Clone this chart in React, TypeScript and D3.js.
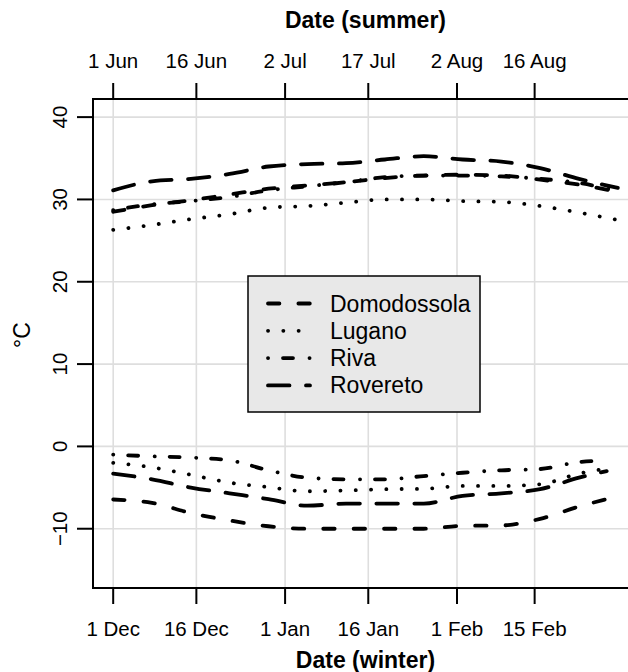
import React from "react";
import * as d3 from "d3";

const stations = ["Domodossola", "Lugano", "Riva", "Rovereto"];
const tickDays = [0, 15, 31, 46, 62, 76];
const summerTickLabels = ["1 Jun", "16 Jun", "2 Jul", "17 Jul", "2 Aug", "16 Aug"];
const winterTickLabels = ["1 Dec", "16 Dec", "1 Jan", "16 Jan", "1 Feb", "15 Feb"];
const yTicks = [-10, 0, 10, 20, 30, 40];

const summerDays = [0, 7, 14, 21, 28, 35, 42, 49, 56, 63, 70, 77, 84, 91];
const summerDomodossola = [28.5, 29.3, 29.9, 30.6, 31.3, 31.7, 32.1, 32.6, 32.9, 33.0, 32.9, 32.4, 31.8, 30.9];
const summerLugano = [26.3, 26.9, 27.6, 28.2, 29.0, 29.2, 29.6, 30.0, 30.0, 29.8, 29.7, 29.2, 28.4, 27.5];
const summerRiva = [28.7, 29.4, 29.8, 30.3, 31.1, 31.6, 32.1, 32.7, 32.9, 32.9, 32.8, 32.5, 32.0, 31.0];
const summerRovereto = [31.1, 32.2, 32.5, 33.1, 34.0, 34.3, 34.4, 34.85, 35.25, 34.85, 34.6, 33.8, 32.5, 31.4];

const winterDays = [0, 7, 14, 21, 28, 35, 42, 49, 56, 63, 70, 77, 84, 89];
const winterDomodossola = [-6.45, -6.85, -8.1, -9.0, -9.7, -10.0, -10.0, -10.0, -10.0, -9.65, -9.6, -8.8, -7.3, -6.4];
const winterLugano = [-2.0, -2.55, -3.45, -4.4, -4.95, -5.45, -5.35, -5.2, -5.15, -4.8, -4.8, -4.6, -3.3, -2.7];
const winterRiva = [-1.0, -1.2, -1.35, -1.7, -2.9, -3.8, -4.0, -4.0, -3.6, -3.2, -2.9, -2.75, -1.9, -1.7];
const winterRovereto = [-3.3, -4.0, -5.0, -5.7, -6.4, -7.2, -6.95, -6.95, -6.95, -6.0, -5.7, -5.2, -3.8, -3.0];

const dashes: Record<string, string> = {
  Domodossola: "11.4,19",
  Lugano: "0.1,15.2",
  Riva: "0.1,14.9,10,16.5",
  Rovereto: "21.5,16.5",
};

const FONT = "'Liberation Sans', Arial, Helvetica, sans-serif";

export default function App() {
  const W = 628, H = 672;
  const left = 93, right = 638, top = 99, bottom = 588;
  const x = d3.scaleLinear().domain([-3.64, 94.64]).range([left, right]);
  const y = d3.scaleLinear().domain([-17.2, 42.2]).range([bottom, top]);
  const line = d3
    .line<[number, number]>()
    .x((d) => x(d[0]))
    .y((d) => y(d[1]))
    .curve(d3.curveMonotoneX);

  const series = [
    { name: "Domodossola", days: summerDays, vals: summerDomodossola },
    { name: "Lugano", days: summerDays, vals: summerLugano },
    { name: "Riva", days: summerDays, vals: summerRiva },
    { name: "Rovereto", days: summerDays, vals: summerRovereto },
    { name: "Domodossola", days: winterDays, vals: winterDomodossola },
    { name: "Lugano", days: winterDays, vals: winterLugano },
    { name: "Riva", days: winterDays, vals: winterRiva },
    { name: "Rovereto", days: winterDays, vals: winterRovereto },
  ];

  const grid = "#dedede";
  const lw = 3.8;
  const tl = 16;

  const lgX = 248, lgY = 276, lgW = 232, lgH = 136;

  return (
    <svg width={W} height={H} style={{ position: "absolute", left: 0, top: 0 }} fontFamily={FONT}>
      <defs>
        <clipPath id="plotclip">
          <rect x={left} y={top} width={right - left} height={bottom - top} />
        </clipPath>
      </defs>
      <rect x={0} y={0} width={W} height={H} fill="#fff" />
      {/* grid */}
      {tickDays.map((d, i) => (
        <line key={"gv" + i} x1={x(d)} x2={x(d)} y1={top} y2={bottom} stroke={grid} strokeWidth={1.6} />
      ))}
      {yTicks.map((v, i) => (
        <line key={"gh" + i} x1={left} x2={right} y1={y(v)} y2={y(v)} stroke={grid} strokeWidth={1.6} />
      ))}
      {/* lines */}
      <g clipPath="url(#plotclip)">
        {series.map((s, i) => (
          <path
            key={"s" + i}
            d={line(s.days.map((d, j) => [d, s.vals[j]] as [number, number])) || ""}
            fill="none"
            stroke="#000"
            strokeWidth={lw}
            strokeDasharray={dashes[s.name]}
            strokeLinecap="round"
            strokeLinejoin="round"
          />
        ))}
      </g>
      {/* legend */}
      <rect x={lgX} y={lgY} width={lgW} height={lgH} fill="#e8e8e8" stroke="#000" strokeWidth={1.5} />
      {stations.map((name, i) => {
        const cy = 303.5 + i * 27.3;
        return (
          <g key={"lg" + i}>
            <line
              x1={268}
              x2={310}
              y1={cy}
              y2={cy}
              stroke="#000"
              strokeWidth={lw}
              strokeDasharray={dashes[name]}
              strokeLinecap="round"
            />
            <text x={330} y={cy} dy="0.35em" fontSize={23} fill="#000">
              {name}
            </text>
          </g>
        );
      })}
      {/* box */}
      <rect x={left} y={top} width={right - left} height={bottom - top} fill="none" stroke="#000" strokeWidth={2} />
      {/* top axis */}
      {tickDays.map((d, i) => (
        <g key={"tt" + i}>
          <line x1={x(d)} x2={x(d)} y1={top} y2={top - tl} stroke="#000" strokeWidth={2} />
          <text x={x(d)} y={68} textAnchor="middle" fontSize={20.5}>
            {summerTickLabels[i]}
          </text>
        </g>
      ))}
      <text x={(left + right) / 2} y={28} textAnchor="middle" fontSize={23} fontWeight="bold">
        Date (summer)
      </text>
      {/* bottom axis */}
      {tickDays.map((d, i) => (
        <g key={"bt" + i}>
          <line x1={x(d)} x2={x(d)} y1={bottom} y2={bottom + tl} stroke="#000" strokeWidth={2} />
          <text x={x(d)} y={636} textAnchor="middle" fontSize={20.5}>
            {winterTickLabels[i]}
          </text>
        </g>
      ))}
      <text x={(left + right) / 2} y={668} textAnchor="middle" fontSize={23} fontWeight="bold">
        Date (winter)
      </text>
      {/* left axis */}
      {yTicks.map((v, i) => (
        <g key={"yt" + i}>
          <line x1={left} x2={left - tl} y1={y(v)} y2={y(v)} stroke="#000" strokeWidth={2} />
          <text
            transform={`translate(${67},${y(v)}) rotate(-90)`}
            textAnchor="middle"
            fontSize={20.5}
          >
            {v < 0 ? "\u2212" + Math.abs(v) : String(v)}
          </text>
        </g>
      ))}
      <text transform={`translate(${30},${335}) rotate(-90)`} textAnchor="middle" fontSize={23}>
        °C
      </text>
    </svg>
  );
}
